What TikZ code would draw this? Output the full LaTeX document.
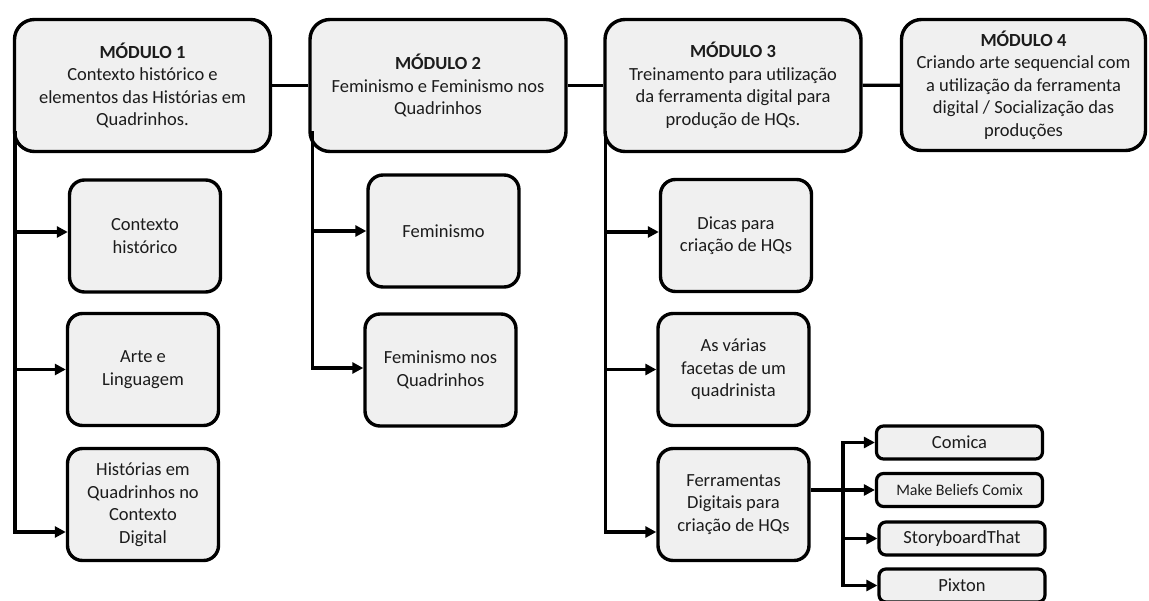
\documentclass[tikz,border=0pt]{standalone}
\usepackage{fontspec}
\setmainfont{Carlito}
\usetikzlibrary{arrows.meta}
\definecolor{boxfill}{RGB}{240,240,240}
\definecolor{txt}{RGB}{28,28,28}
\begin{document}
\begin{tikzpicture}[x=1pt,y=-1pt,
  box/.style={draw=black, line width=3.4pt, fill=boxfill, align=center, inner sep=0pt, text=txt, font=\fontsize{18.5}{22.5}\selectfont},
  bigbox/.style={box, rounded corners=20pt, minimum width=256pt, minimum height=132pt},
  childbox/.style={box, rounded corners=15pt, minimum width=151pt, minimum height=112pt},
  smallbox/.style={box, rounded corners=7pt, minimum width=166pt, minimum height=33pt, line width=3.2pt},
  link/.style={line width=3.4pt, draw=black},
  arr/.style={link, -{Triangle[length=11pt,width=11pt]}}]
\useasboundingbox (0,0) rectangle (1149,601);
% modules
\node[bigbox] (m1) at (142.5,85.5) {\textbf{MÓDULO 1}\\Contexto histórico e\\elementos das Histórias em\\Quadrinhos.};
\node[bigbox] (m2) at (438,85.5) {\textbf{MÓDULO 2}\\Feminismo e Feminismo nos\\Quadrinhos};
\node[bigbox] (m3) at (733,85.5) {\textbf{MÓDULO 3}\\Treinamento para utilização\\da ferramenta digital para\\produção de HQs.};
\node[bigbox, minimum width=244pt, minimum height=131pt] (m4) at (1023.5,85) {\textbf{MÓDULO 4}\\Criando arte sequencial com\\a utilização da ferramenta\\digital / Socialização das\\produções};
% column 1
\node[childbox] (c1) at (145,236) {Contexto\\histórico};
\node[childbox] (c2) at (143,369.5) {Arte e\\Linguagem};
\node[childbox] (c3) at (143,504.5) {Histórias em\\Quadrinhos no\\Contexto\\Digital};
% column 2
\node[childbox] (f1) at (443.5,231) {Feminismo};
\node[childbox] (f2) at (440.5,370) {Feminismo nos\\Quadrinhos};
% column 3
\node[childbox] (d1) at (736,235.5) {Dicas para\\criação de HQs};
\node[childbox] (d2) at (733.5,369.5) {As várias\\facetas de um\\quadrinista};
\node[childbox] (d3) at (733.5,504.5) {Ferramentas\\Digitais para\\criação de HQs};
% tools
\node[smallbox] (co) at (959.5,442.5) {Comica};
\node[smallbox, font=\fontsize{16}{19}\selectfont] (mb) at (959.5,490) {Make Beliefs Comix};
\node[smallbox] (sb) at (962,538.5) {StoryboardThat};
\node[smallbox] (px) at (962,585.5) {Pixton};
% top links
\draw[link] (m1) -- (m2);
\draw[link] (m2) -- (m3);
\draw[link] (m3) -- (m4);
% column links
\coordinate (s1) at ([xshift=2pt,yshift=22pt]m1.south west);
\draw[arr] (s1) |- ([yshift=4pt]c1.west);
\draw[arr] (s1) |- (c2.west);
\draw[arr] (s1) |- ([yshift=-27.5pt]c3.west);
\coordinate (s2) at ([xshift=4pt,yshift=22pt]m2.south west);
\draw[arr] (s2) |- (f1.west);
\draw[arr] (s2) |- ([yshift=2pt]f2.west);
\coordinate (s3) at ([xshift=2pt,yshift=22pt]m3.south west);
\draw[arr] (s3) |- ([yshift=3.5pt]d1.west);
\draw[arr] (s3) |- (d2.west);
\draw[arr] (s3) |- ([yshift=-27.5pt]d3.west);
% tool links
\coordinate (j) at (843,490);
\draw[arr] ([yshift=14.5pt]d3.east) -- (mb.west);
\draw[arr] (j) |- (co.west);
\draw[arr] (j) |- (sb.west);
\draw[arr] (j) |- (px.west);
\end{tikzpicture}
\end{document}
